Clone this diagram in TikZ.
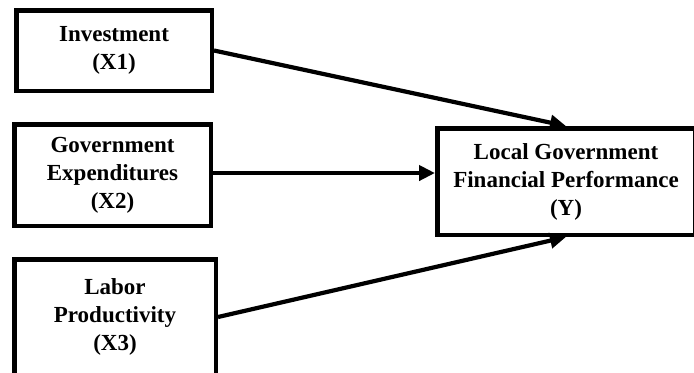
\documentclass[tikz,border=0pt]{standalone}
\usepackage{fontspec}
\setmainfont{Liberation Serif}
\usetikzlibrary{arrows.meta}

\begin{document}
\begin{tikzpicture}[x=0.5pt,y=-0.5pt,auto=center,
		varbox/.style={draw,line width=2.25pt,inner sep=0pt,align=center,
			font=\fontsize{11.5pt}{14pt}\selectfont\bfseries},
		path/.style={line width=2.1pt,-{Triangle[length=8pt,width=7.5pt]}}]
			\useasboundingbox (0,0) rectangle (694,372);
			\clip (0,0) rectangle (694,372);
			\node[varbox,minimum width=97.75pt,minimum height=40.25pt] (inv) at (114,50.5) {Investment\\(X1)};
			\node[varbox,minimum width=98.25pt,minimum height=50.75pt] (exp) at (112.5,175) {Government\\Expenditures\\(X2)};
			\node[varbox,minimum width=100.75pt,minimum height=57.75pt] (lab) at (115,317) {Labor\\Productivity\\(X3)};
			\node[varbox,minimum width=128.75pt,minimum height=53.25pt] (perf) at (566,181.5) {Local Government\\Financial Performance\\(Y)};
			\draw[path] (inv.east) -- (perf.north);
			\draw[path] (exp.east |- 0,173) -- (perf.west |- 0,173);
			\draw[path] (lab.east) -- (perf.south);
		\end{tikzpicture}
\end{document}
